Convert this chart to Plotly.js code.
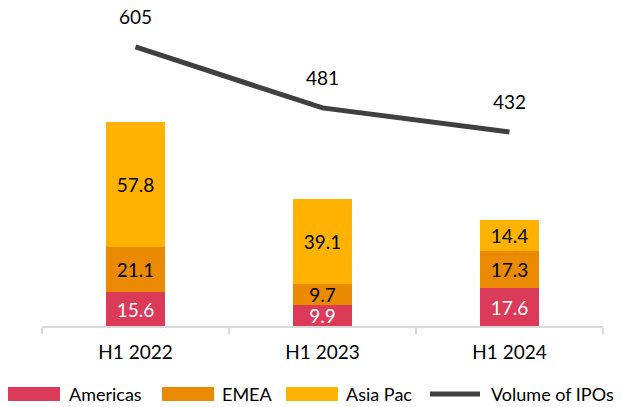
<!DOCTYPE html>
<html>
<head>
<meta charset="utf-8">
<script src="https://cdn.plot.ly/plotly-3.0.1.min.js"></script>
<style>html,body{margin:0;padding:0;background:#fff;}#chart{width:622px;height:407px;}</style>
</head>
<body>
<div id="chart"></div>
<script>
const categories = ["H1 2022", "H1 2023", "H1 2024"];
const americas = [15.6, 9.9, 17.6];
const emea = [21.1, 9.7, 17.3];
const asiaPac = [57.8, 39.1, 14.4];
const ipoVolume = [605, 481, 432];
const seriesNames = ["Americas", "EMEA", "Asia Pac", "Volume of IPOs"];
const colors = ["#db3a59", "#ea8a00", "#ffb300", "#404040"];

const FONT = "Lato, 'Open Sans', sans-serif";
const textColors = ["#ffffff", "#000000", "#000000"];
const barSeries = [americas, emea, asiaPac];

const traces = barSeries.map((vals, i) => ({
  type: "bar",
  name: seriesNames[i],
  x: categories,
  y: vals,
  marker: {color: colors[i]},
  texttemplate: "%{y:.1f}",
  textposition: "inside",
  insidetextanchor: "middle",
  constraintext: "none",
  textfont: {family: FONT, size: 19, color: textColors[i]},
  hoverinfo: "skip",
  showlegend: false
}));

traces.push({
  type: "scatter",
  mode: "lines",
  name: seriesNames[3],
  x: categories,
  y: ipoVolume,
  yaxis: "y2",
  line: {color: colors[3], width: 5},
  hoverinfo: "skip",
  showlegend: false
});

const annotations = ipoVolume.map((v, i) => ({
  x: categories[i], y: v, xref: "x", yref: "y2",
  text: String(v), showarrow: false, yshift: 30,
  font: {family: FONT, size: 19, color: "#000"}
}));

// custom legend (positions in pixels converted to paper coords)
const L = 42, T = 10, W = 561, H = 316;
const px = x => (x - L) / W;
const py = y => 1 - (y - T) / H;
const legendRectX = [8, 162, 286, 427];
const legendTextX = [67, 220, 344, 489];
const legendY = 394;
const shapes = [];
seriesNames.forEach((name, i) => {
  if (i < 3) {
    shapes.push({type: "rect", xref: "paper", yref: "paper",
      x0: px(legendRectX[i]), x1: px(legendRectX[i] + 52),
      y0: py(legendY - 7), y1: py(legendY + 7),
      fillcolor: colors[i], line: {width: 0}});
  } else {
    shapes.push({type: "line", xref: "paper", yref: "paper",
      x0: px(legendRectX[i] + 3), x1: px(legendRectX[i] + 53),
      y0: py(legendY), y1: py(legendY),
      line: {color: colors[i], width: 5}});
  }
  annotations.push({xref: "paper", yref: "paper", x: px(legendTextX[i]), y: py(legendY),
    xanchor: "left", yanchor: "middle", text: name, showarrow: false,
    font: {family: FONT, size: 18, color: "#000"}});
});

const layout = {
  width: 622, height: 407,
  margin: {l: L, r: 622 - L - W, t: T, b: 407 - T - H},
  paper_bgcolor: "#fff", plot_bgcolor: "#fff",
  barmode: "stack",
  bargap: 0.68,
  showlegend: false,
  xaxis: {
    type: "category",
    showline: true, linecolor: "#d9d9d9", linewidth: 2,
    ticks: "outside", tickson: "boundaries", ticklen: 6, tickcolor: "#d9d9d9", tickwidth: 2,
    tickfont: {family: FONT, size: 19, color: "#000"},
    ticklabelstandoff: 8,
    showgrid: false, zeroline: false, fixedrange: true
  },
  yaxis: {range: [0, 146.4], visible: false, showgrid: false, zeroline: false},
  yaxis2: {range: [37.1, 680.3], overlaying: "y", side: "right", visible: false, showgrid: false, zeroline: false},
  annotations: annotations,
  shapes: shapes
};

Plotly.newPlot("chart", traces, layout, {staticPlot: true, displayModeBar: false});
</script>
</body>
</html>
